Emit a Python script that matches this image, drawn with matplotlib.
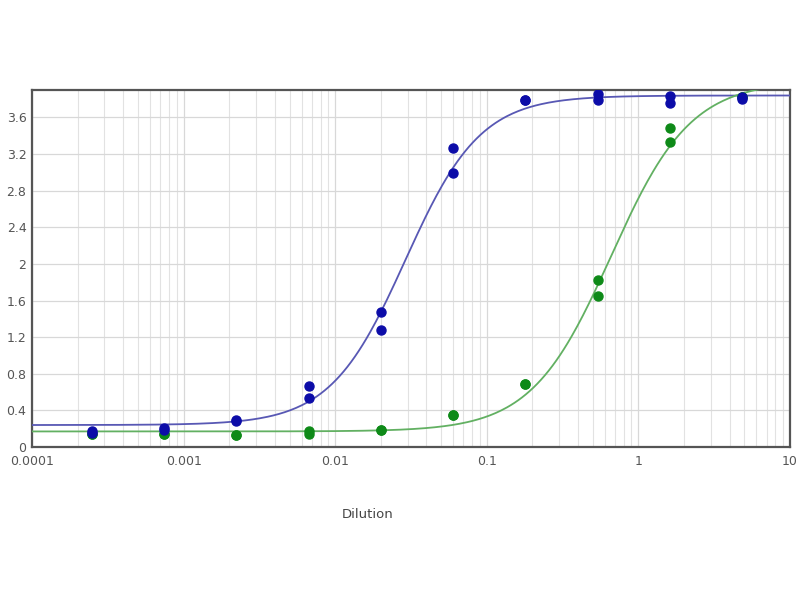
import numpy as np
import matplotlib.pyplot as plt
from matplotlib.ticker import FixedLocator, LogLocator, NullFormatter

# dilution steps (3-fold series)
dilution = [0.00025, 0.00074, 0.0022, 0.0067, 0.02, 0.06, 0.18, 0.54, 1.62, 4.86]

# replicate readings, blue series
blue_rep1 = [0.15, 0.21, 0.30, 0.67, 1.48, 3.27, 3.79, 3.86, 3.83, 3.82]
blue_rep2 = [0.17, 0.19, 0.28, 0.53, 1.28, 2.99, 3.79, 3.79, 3.76, 3.80]

# replicate readings, green series
green_rep1 = [0.14, 0.14, 0.13, 0.18, 0.19, 0.35, 0.69, 1.82, 3.48, 3.82]
green_rep2 = [0.14, 0.14, 0.13, 0.14, 0.19, 0.35, 0.69, 1.65, 3.33, 3.82]

# 4-parameter logistic fits (bottom, top, ec50, hill)
blue_fit = (0.24, 3.84, 0.029, 1.75)
green_fit = (0.17, 4.0, 0.66, 1.65)

x_ticks = [0.0001, 0.001, 0.01, 0.1, 1, 10]
x_tick_labels = ['0.0001', '0.001', '0.01', '0.1', '1', '10']
y_ticks = [0, 0.4, 0.8, 1.2, 1.6, 2, 2.4, 2.8, 3.2, 3.6]
y_tick_labels = ['0', '0.4', '0.8', '1.2', '1.6', '2', '2.4', '2.8', '3.2', '3.6']


def four_pl(x, bottom, top, ec50, hill):
    return bottom + (top - bottom) / (1 + (ec50 / x) ** hill)


fig = plt.figure(figsize=(8, 6), dpi=100)
ax = fig.add_axes([0.04, 0.255, 0.9475, 0.595])

xs = np.logspace(-4, 1, 400)
ax.plot(xs, four_pl(xs, *blue_fit), color='#5858b4', lw=1.3, zorder=3)
ax.plot(xs, four_pl(xs, *green_fit), color='#62b062', lw=1.3, zorder=3)

for ys in (green_rep1, green_rep2):
    ax.plot(dilution, ys, 'o', color='#0e8a18', ms=6.5, mec='#0e8a18', zorder=4)
for ys in (blue_rep1, blue_rep2):
    ax.plot(dilution, ys, 'o', color='#0c0ca8', ms=6.5, mec='#0c0ca8', zorder=5)

ax.set_xscale('log')
ax.set_xlim(0.0001, 10)
ax.set_ylim(0, 3.9)

ax.xaxis.set_major_locator(FixedLocator(x_ticks))
ax.set_xticklabels(x_tick_labels)
ax.xaxis.set_minor_locator(LogLocator(base=10, subs=np.arange(2, 10)))
ax.xaxis.set_minor_formatter(NullFormatter())
ax.set_yticks(y_ticks)
ax.set_yticklabels(y_tick_labels)

ax.grid(True, which='major', color='#d8d8d8', lw=0.9)
ax.grid(True, which='minor', axis='x', color='#e2e2e2', lw=0.8)
ax.set_axisbelow(True)

for s in ax.spines.values():
    s.set_color('#555555')
    s.set_linewidth(1.6)

ax.tick_params(axis='both', which='both', length=0, labelsize=9, labelcolor='#555555')
ax.tick_params(axis='x', pad=6)
ax.tick_params(axis='y', pad=4)

fig.text(368 / 800, 1 - 515 / 600, 'Dilution', ha='center', va='center',
         fontsize=9.5, color='#444444')

fig.savefig('out.png', dpi=100)
